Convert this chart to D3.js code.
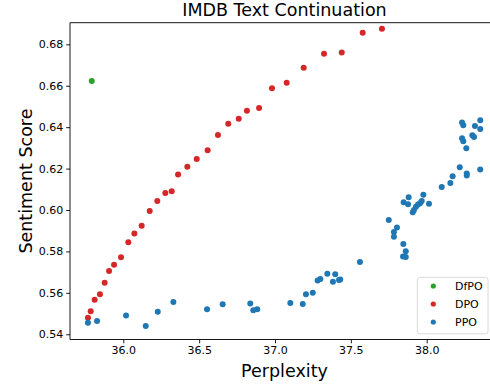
<!DOCTYPE html>
<html>
<head>
<meta charset="utf-8">
<script src="https://cdn.jsdelivr.net/npm/d3@7"></script>
<style>
  html, body { margin: 0; padding: 0; background: #fff; }
  svg { display: block; font-family: "DejaVu Sans", sans-serif; }
</style>
</head>
<body>
<svg id="chart" width="490" height="386"></svg>
<script>
// Perplexity (x) vs. sentiment score (y) for each method
const dfpoX = [35.792];
const dfpoY = [0.6623];

const dpoX = [35.767, 35.785, 35.811, 35.846, 35.877, 35.906, 35.939, 35.985, 36.033, 36.073,
              36.121, 36.174, 36.224, 36.277, 36.319, 36.361, 36.422, 36.484, 36.556, 36.624,
              36.692, 36.761, 36.815, 36.895, 36.980, 37.077, 37.189, 37.323, 37.440, 37.578, 37.705];
const dpoY = [0.5480, 0.5511, 0.5567, 0.5593, 0.5649, 0.5705, 0.5736, 0.5772, 0.5844, 0.5886,
              0.5924, 0.5995, 0.6043, 0.6082, 0.6090, 0.6172, 0.6209, 0.6246, 0.6288, 0.6362,
              0.6417, 0.6441, 0.6479, 0.6493, 0.6588, 0.6615, 0.6687, 0.6755, 0.6761, 0.6856, 0.6875];

const ppoX = [35.767, 35.827, 36.018, 36.148, 36.227, 36.330, 36.552, 36.655, 36.837, 36.857,
              36.883, 37.101, 37.183, 37.204, 37.249, 37.281, 37.299, 37.345, 37.382, 37.397,
              37.422, 37.430, 37.560, 37.750, 37.804, 37.784, 37.784, 37.846, 37.862, 37.844,
              37.862, 37.848, 37.881, 37.877, 37.908, 37.916, 37.929, 37.943, 37.956, 37.967,
              37.978, 38.015, 38.099, 38.156, 38.171, 38.218, 38.264, 38.264, 38.353, 38.261,
              38.233, 38.241, 38.301, 38.312, 38.233, 38.241, 38.318, 38.353, 38.353];
const ppoY = [0.5456, 0.5464, 0.5490, 0.5440, 0.5509, 0.5556, 0.5521, 0.5545, 0.5548, 0.5516,
              0.5521, 0.5551, 0.5546, 0.5593, 0.5601, 0.5659, 0.5667, 0.5692, 0.5654, 0.5690,
              0.5662, 0.5665, 0.5749, 0.5952, 0.5915, 0.5894, 0.5871, 0.5836, 0.5801, 0.5776,
              0.5773, 0.6037, 0.6061, 0.6028, 0.5989, 0.6000, 0.6016, 0.6026, 0.6032, 0.6043,
              0.6074, 0.6030, 0.6111, 0.6130, 0.6163, 0.6206, 0.6176, 0.6167, 0.6196, 0.6298,
              0.6347, 0.6332, 0.6361, 0.6352, 0.6422, 0.6409, 0.6406, 0.6433, 0.6391];

const xTicks = [36.0, 36.5, 37.0, 37.5, 38.0];
const yTicks = [0.54, 0.56, 0.58, 0.60, 0.62, 0.64, 0.66, 0.68];

const seriesNames = ["DfPO", "DPO", "PPO"];
const seriesColors = ["#2ca02c", "#d62728", "#1f77b4"];

const W = 490, H = 386;
const plot = { left: 70, right: 499, top: 22.7, bottom: 339.5 };

const svg = d3.select("#chart");

const x = d3.scaleLinear().domain([35.6486, 38.4766]).range([plot.left, plot.right]);
const y = d3.scaleLinear().domain([0.53747, 0.69044]).range([plot.bottom, plot.top]);

// clip region for the plotted points
svg.append("defs").append("clipPath").attr("id", "plotClip")
  .append("rect")
  .attr("x", plot.left).attr("y", plot.top)
  .attr("width", W - plot.left).attr("height", plot.bottom - plot.top);

const series = [
  { xs: dfpoX, ys: dfpoY },
  { xs: dpoX, ys: dpoY },
  { xs: ppoX, ys: ppoY }
];

const pts = svg.append("g").attr("clip-path", "url(#plotClip)");
series.forEach((s, i) => {
  pts.append("g").selectAll("circle")
    .data(s.xs.map((v, j) => [v, s.ys[j]]))
    .join("circle")
    .attr("cx", d => x(d[0]))
    .attr("cy", d => y(d[1]))
    .attr("r", 3)
    .attr("fill", seriesColors[i]);
});

// axes
const xAxis = d3.axisBottom(x).tickValues(xTicks).tickFormat(d3.format(".1f"))
  .tickSize(3.8).tickPadding(3);
const yAxis = d3.axisLeft(y).tickValues(yTicks).tickFormat(d3.format(".2f"))
  .tickSize(3.8).tickPadding(3);

const gx = svg.append("g").attr("transform", `translate(0,${plot.bottom})`).call(xAxis);
const gy = svg.append("g").attr("transform", `translate(${plot.left},0)`).call(yAxis);
[gx, gy].forEach(g => {
  g.select(".domain").remove();
  g.selectAll(".tick line").attr("stroke", "#000").attr("stroke-width", 0.9);
  g.selectAll(".tick text").attr("fill", "#000")
    .style("font-size", "11px").style("font-family", "'DejaVu Sans', sans-serif");
});

// frame (right side runs past the canvas edge)
const frame = svg.append("g").attr("stroke", "#000").attr("stroke-width", 0.9);
frame.append("line").attr("x1", plot.left).attr("x2", W).attr("y1", plot.top).attr("y2", plot.top);
frame.append("line").attr("x1", plot.left).attr("x2", W).attr("y1", plot.bottom).attr("y2", plot.bottom);
frame.append("line").attr("x1", plot.left).attr("x2", plot.left).attr("y1", plot.top).attr("y2", plot.bottom);

// title and axis labels
const cx = (plot.left + plot.right) / 2;
svg.append("text").attr("x", cx).attr("y", 16)
  .attr("text-anchor", "middle").style("font-size", "17.5px").text("IMDB Text Continuation");
svg.append("text").attr("x", cx).attr("y", 376.5)
  .attr("text-anchor", "middle").style("font-size", "17.5px").text("Perplexity");
svg.append("text")
  .attr("transform", `translate(31.5,${(plot.top + plot.bottom) / 2}) rotate(-90)`)
  .attr("text-anchor", "middle").style("font-size", "17.5px").text("Sentiment Score");

// legend
const lg = svg.append("g");
lg.append("rect")
  .attr("x", 417.3).attr("y", 277.3).attr("width", 70.7).attr("height", 56.5)
  .attr("rx", 2.5).attr("fill", "#fff").attr("fill-opacity", 0.8)
  .attr("stroke", "#d6d6d6").attr("stroke-width", 0.9);
seriesNames.forEach((name, i) => {
  const yy = 286 + i * 18;
  lg.append("circle").attr("cx", 433.3).attr("cy", yy).attr("r", 2.6).attr("fill", seriesColors[i]);
  lg.append("text").attr("x", 455).attr("y", yy).attr("dy", "0.36em")
    .style("font-size", "11px").text(name);
});
</script>
</body>
</html>
